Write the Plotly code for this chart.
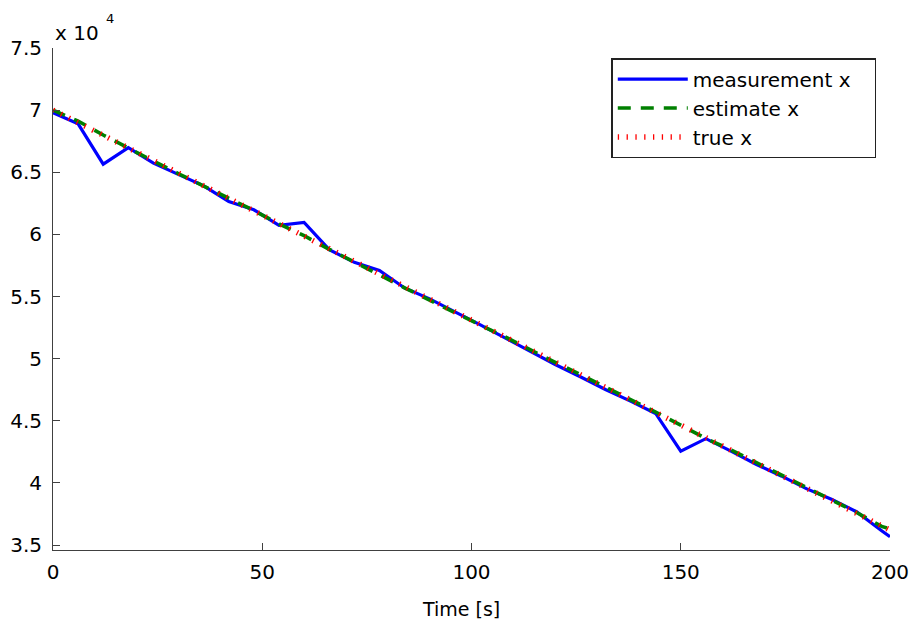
import plotly.graph_objects as go

# time samples [s]
time_s = [0, 6, 12, 18, 24, 30, 36, 42, 48, 54, 60, 66, 72, 78, 84, 90, 96,
          102, 108, 114, 120, 126, 132, 138, 144, 150, 156, 162, 168, 174,
          180, 186, 192, 198, 200]

measurement_x = [69790, 68900, 65650, 66980, 65730, 64790, 63910, 62650, 61980,
                 60720, 60960, 58770, 57750, 57100, 55690, 54810, 53810, 52740,
                 51670, 50600, 49530, 48540, 47520, 46580, 45590, 42560, 43560,
                 42560, 41500, 40560, 39540, 38690, 37680, 36150, 35660]

estimate_x = [70000, 69120, 68000, 66930, 65900, 64880, 63900, 62930, 61920,
              60840, 59900, 58800, 57800, 56750, 55700, 54680, 53700, 52720,
              51760, 50700, 49700, 48720, 47680, 46700, 45700, 44600, 43580,
              42650, 41650, 40620, 39580, 38600, 37620, 36500, 36300]

true_x = [70000, 68990, 67970, 66960, 65940, 64930, 63920, 62900, 61890,
          60870, 59860, 58850, 57830, 56820, 55800, 54790, 53780, 52760,
          51750, 50730, 49720, 48710, 47690, 46680, 45660, 44650, 43640,
          42620, 41610, 40590, 39580, 38570, 37550, 36540, 36200]

y_tick_vals = [35000, 40000, 45000, 50000, 55000, 60000, 65000, 70000, 75000]
y_tick_text = ["3.5", "4", "4.5", "5", "5.5", "6", "6.5", "7", "7.5"]
x_tick_vals = [0, 50, 100, 150, 200]

FONT = "DejaVu Sans"
FS = 20

fig = go.Figure()
fig.add_trace(go.Scatter(x=time_s, y=measurement_x, mode="lines",
                         name="measurement x\u00a0\u00a0\u00a0",
                         line=dict(color="rgb(0,0,255)", width=3.2)))
fig.add_trace(go.Scatter(x=time_s, y=estimate_x, mode="lines", name="estimate x",
                         line=dict(color="rgb(0,128,0)", width=3.6, dash="13px,10px")))
fig.add_trace(go.Scatter(x=time_s, y=true_x, mode="lines", name="true x",
                         line=dict(color="rgb(255,0,0)", width=5.5, dash="1.3px,7.5px")))

axis_common = dict(showgrid=False, zeroline=False, showline=True, linecolor="#404040",
                   linewidth=1, ticks="inside", ticklen=7, tickcolor="#404040",
                   tickfont=dict(family=FONT, size=FS, color="black"), mirror=False,
                   automargin=False)

fig.update_xaxes(range=[0, 200], tickvals=x_tick_vals, ticklabelstandoff=4,
                 **axis_common)
fig.update_yaxes(range=[34600, 75000], tickvals=y_tick_vals, ticktext=y_tick_text,
                 ticklabelstandoff=6, **axis_common)

fig.add_annotation(text="Time [s]", xref="paper", yref="paper", x=0.4875, y=-0.117,
                   xanchor="center", yanchor="middle", showarrow=False,
                   font=dict(family=FONT, size=FS - 1, color="black"))
fig.add_annotation(text="x 10", xref="paper", yref="paper", x=0.0, y=1.0305,
                   xanchor="left", yanchor="middle", showarrow=False,
                   font=dict(family=FONT, size=FS, color="black"))
fig.add_annotation(text="4", xref="paper", yref="paper", x=0.068, y=1.059,
                   xanchor="center", yanchor="middle", showarrow=False,
                   font=dict(family=FONT, size=13, color="black"))

fig.update_layout(
    width=913, height=626,
    margin=dict(l=53, r=23, t=48, b=76),
    paper_bgcolor="white", plot_bgcolor="white",
    font=dict(family=FONT, size=FS, color="black"),
    legend=dict(x=0.667, y=0.98, xanchor="left", yanchor="top",
                bgcolor="white", bordercolor="#222", borderwidth=1.5,
                font=dict(family=FONT, size=FS, color="black"),
                itemwidth=70),
    showlegend=True,
)

fig.write_html("out.html", config={"displayModeBar": False},
               post_script="document.body.style.margin='0';document.body.style.overflow='hidden';")
